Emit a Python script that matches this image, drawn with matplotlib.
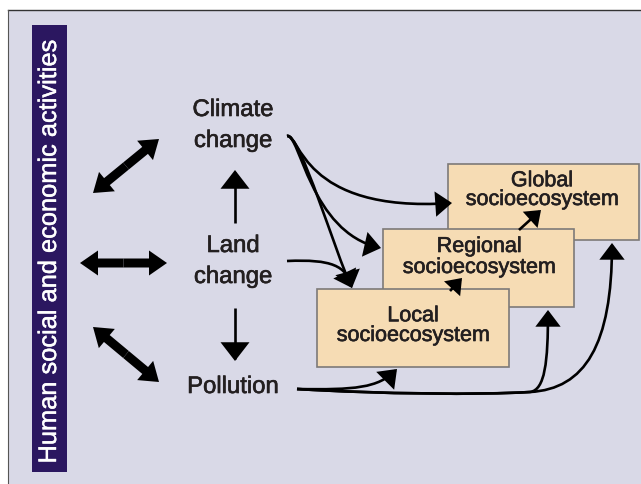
import matplotlib
matplotlib.use("Agg")
import matplotlib.pyplot as plt
import matplotlib.patheffects as pe
from matplotlib.patches import Rectangle, FancyArrow, FancyArrowPatch
from matplotlib.path import Path

W, H = 641, 484
BG = "#d9d9e7"
PURPLE = "#2b1760"
BOX_FILL = "#f6dcb4"
BOX_EDGE = "#7d7a78"
TXT = "#231f20"
FONT = ["Liberation Sans", "DejaVu Sans"]

# --- content -------------------------------------------------------------
side_label = "Human social and economic activities"
driver_lines = [("Climate", 233, 116), ("change", 233, 147),
                ("Land", 233, 252), ("change", 233, 283),
                ("Pollution", 233, 393)]
# boxes: name, x0, y0, x1, y1 (pixel coords, y downwards)
boxes = [("Global", 448, 164, 639, 240),
         ("Regional", 383, 229, 574, 307),
         ("Local", 317, 289, 509, 367)]
box_sub_base = [205, 273, 341]
box_spacing = [0.86, 1.0, 0.92]
box_cx = [542, 479, 413]

fig = plt.figure(figsize=(W / 100, H / 100), dpi=100)
fig.patch.set_facecolor("white")
ax = fig.add_axes([0, 0, 1, 1])
ax.set_xlim(0, W)
ax.set_ylim(H, 0)
ax.axis("off")

heavy = [pe.withStroke(linewidth=0.45, foreground=TXT)]
heavy_w = [pe.withStroke(linewidth=0.3, foreground="white")]

# background panel with top/left border
ax.add_patch(Rectangle((8, 9.5), W, H, facecolor=BG, edgecolor="none", zorder=0))
ax.plot([8, W], [9.5, 9.5], color="#333333", lw=1.0, zorder=1)
ax.plot([8, 8], [9.5, H], color="#555555", lw=0.8, zorder=1)

# purple side bar
ax.add_patch(Rectangle((32, 25), 35, 447, facecolor=PURPLE, edgecolor="none", zorder=2))
ax.text(56, 251, side_label, rotation=90, rotation_mode="anchor",
        ha="center", va="baseline", color="white", fontsize=18.3,
        family=FONT, zorder=3, path_effects=heavy_w)

# driver labels
for s, x, y in driver_lines:
    ax.text(x, y, s, ha="center", va="baseline", fontsize=17.2,
            color=TXT, family=FONT, zorder=5, path_effects=heavy)

# boxes (global at back)
for i, (name, x0, y0, x1, y1) in enumerate(boxes):
    ax.add_patch(Rectangle((x0, y0), x1 - x0, y1 - y0, facecolor=BOX_FILL,
                           edgecolor=BOX_EDGE, lw=1.2, zorder=10 + 2 * i))
    ax.text(box_cx[i], box_sub_base[i], name + "\nsocioecosystem",
            ha="center", va="baseline", multialignment="center",
            linespacing=box_spacing[i], fontsize=15.5, color=TXT,
            family=FONT, zorder=11 + 2 * i, path_effects=heavy)

# big double arrows
def double_arrow(p, q, width=9, head_w=25, head_l=18):
    mx, my = (p[0] + q[0]) / 2, (p[1] + q[1]) / 2
    for (ex, ey) in (p, q):
        ax.add_patch(FancyArrow(mx, my, ex - mx, ey - my, width=width,
                                head_width=head_w, head_length=head_l,
                                length_includes_head=True, color="black",
                                lw=0, zorder=6))

double_arrow((93, 193), (159, 139))
double_arrow((80, 263), (167, 263))
double_arrow((93, 327), (159, 382))

# thin arrows helper
def curve_arrow(verts, codes, hl=9.5, hw=7.2, lw=1.9, z=20):
    arr = FancyArrowPatch(path=Path(verts, codes),
                          arrowstyle=f"-|>,head_length={hl},head_width={hw}",
                          mutation_scale=1, color="black", lw=lw,
                          shrinkA=0, shrinkB=0, capstyle="butt",
                          joinstyle="miter", zorder=z)
    ax.add_patch(arr)

M, C, L = Path.MOVETO, Path.CURVE4, Path.LINETO

# vertical arrows between drivers
curve_arrow([(235, 223), (235, 170)], [M, L], hl=11, hw=8.5, lw=1.9)
curve_arrow([(235, 308), (235, 361)], [M, L], hl=11, hw=8.5, lw=1.9)

# climate change -> boxes
clim = (287, 136)
curve_arrow([clim, (300, 133), (301, 213), (452, 203)], [M, C, C, C])
curve_arrow([clim, (300, 133), (310, 232), (381, 248)], [M, C, C, C])
curve_arrow([clim, (300, 133), (336, 255), (352, 288)], [M, C, C, C])
# land change -> local
curve_arrow([(287, 261), (332, 259), (346, 266), (352, 288)], [M, C, C, C])
# pollution -> boxes
pol = (297, 389)
curve_arrow([pol, (355, 390), (378, 388), (397, 369)], [M, C, C, C])
curve_arrow([pol, (380, 394), (480, 395), (530, 392),
             (545, 390), (548, 362), (548, 310)], [M, C, C, C, C, C, C])
curve_arrow([pol, (380, 394), (480, 395), (530, 392),
             (585, 389), (612, 345), (612, 243)], [M, C, C, C, C, C, C])

# small arrows between scale boxes
curve_arrow([(450, 291), (462, 278)], [M, L], hl=8, hw=6, lw=1.9, z=30)
curve_arrow([(519, 230), (541, 210)], [M, L], hl=8, hw=6, lw=1.9, z=30)

fig.savefig("out.png", dpi=100, facecolor=fig.get_facecolor())
